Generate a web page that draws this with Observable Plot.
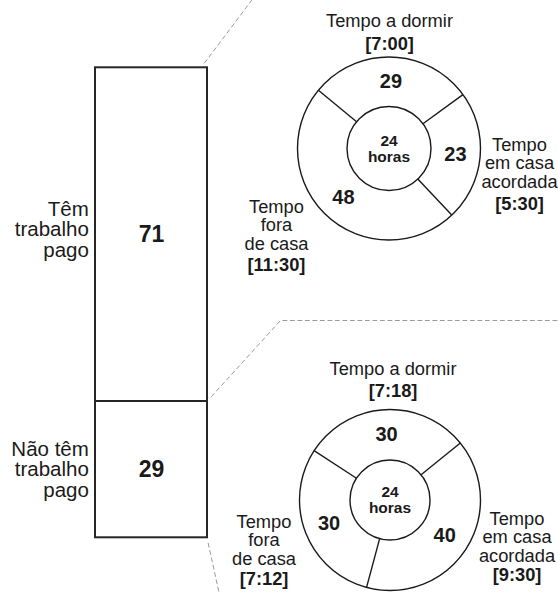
<!DOCTYPE html>
<html>
<head>
<meta charset="utf-8">
<script src="https://cdn.jsdelivr.net/npm/d3@7"></script>
<script src="https://cdn.jsdelivr.net/npm/@observablehq/plot@0.6"></script>
<style>
  html, body { margin: 0; padding: 0; background: #fff; }
  #chart { position: relative; width: 558px; height: 592px; overflow: hidden; background: #fff; }
  #chart svg { position: absolute; left: 0; top: 0; }
</style>
</head>
<body>
<div id="chart"></div>
<script>
// ---------------- DATA ----------------
const groupLabels = ["Têm\ntrabalho\npago", "Não têm\ntrabalho\npago"];
const groupShares = [71, 29];
const timeCategories = ["Tempo a dormir", "Tempo\nem casa\nacordada", "Tempo\nfora\nde casa"];
const paidShares = [29, 23, 48];
const paidTimes = ["[7:00]", "[5:30]", "[11:30]"];
const unpaidShares = [30, 40, 30];
const unpaidTimes = ["[7:18]", "[9:30]", "[7:12]"];
const centerText = "24\nhoras";

// ---------------- LAYOUT ----------------
const W = 558, H = 592;
const FONT = '"Liberation Sans", Arial, Helvetica, sans-serif';
const INK = "#1a1a1a";
const barLayout = {left: 94.7, right: 207, top: 67.3, bottom: 537.3, labelGap: 6.5, labelShift: [22, 27]};
const donutLayout = [
  {cx: 388.5, cy: 148, R: 91.5, r: 42, startDeg: -50.5,
   labelPos: [[0.5, -121.3, -99], [130.5, 39, 61.5], [-112.5, 101, 122]]},
  {cx: 389.5, cy: 499.5, R: 90.5, r: 40, startDeg: -57,
   labelPos: [[3, -125.5, -103], [127, 61.5, 81], [-126, 64.5, 84.5]]}
];
const connectorLayout = [
  {at: 100, offset: [-3, -4.8], to: [[251, 0]]},
  {at: 29, offset: [4, -5], to: [[280, 320], [W, 320]]},
  {at: 0, offset: [0.7, 5.4], to: [[218.5, H]]}
];

const chart = document.getElementById("chart");
const baseStyle = {background: "transparent", fontFamily: FONT, color: INK, overflow: "visible"};

// ---------------- STACKED BAR ----------------
const stackRows = [];
let acc = 0;
for (let i = groupShares.length - 1; i >= 0; --i) {
  stackRows.push({label: groupLabels[i], value: groupShares[i], y1: acc, y2: acc + groupShares[i], idx: i});
  acc += groupShares[i];
}
const halfBand = (barLayout.right - barLayout.left) / 2;
const barPlot = Plot.plot({
  width: W, height: H, margin: 0,
  style: baseStyle,
  x: {type: "band", domain: ["bar"], range: [barLayout.left, barLayout.right], padding: 0, axis: null},
  y: {domain: [0, 100], range: [barLayout.bottom, barLayout.top], axis: null},
  marks: [
    Plot.barY(stackRows, {x: () => "bar", y1: "y1", y2: "y2", fill: "white", stroke: "#262626", strokeWidth: 2}),
    Plot.text(stackRows, {x: () => "bar", y: d => (d.y1 + d.y2) / 2, text: d => String(d.value),
      fontSize: 23, fontWeight: 700, fill: INK}),
    ...stackRows.map(row => Plot.text([row], {
      x: () => "bar", y: d => (d.y1 + d.y2) / 2, text: "label",
      textAnchor: "end", lineAnchor: "bottom", lineHeight: 0.99, fontSize: 20.5, fill: INK,
      dx: -(halfBand + barLayout.labelGap), dy: barLayout.labelShift[row.idx]
    }))
  ]
});
chart.appendChild(barPlot);

// ---------------- DONUTS ----------------
function donutPlot(L, shares, times) {
  const a0 = L.startDeg * Math.PI / 180;
  const arcs = d3.pie().sort(null).startAngle(a0).endAngle(a0 + 2 * Math.PI)(shares);
  const k = L.r / L.R;
  const m = (1 + k) / 2;
  const rows = arcs.map((a, i) => ({
    value: shares[i], start: a.startAngle, mid: (a.startAngle + a.endAngle) / 2,
    name: timeCategories[i], time: times[i], pos: L.labelPos[i]
  }));
  return Plot.plot({
    width: W, height: H, margin: 0,
    style: baseStyle,
    x: {domain: [-L.cx / L.R, (W - L.cx) / L.R], range: [0, W], axis: null},
    y: {domain: [-(H - L.cy) / L.R, L.cy / L.R], range: [H, 0], axis: null},
    marks: [
      Plot.dot([0], {x: 0, y: 0, r: L.R, fill: "white", stroke: INK, strokeWidth: 1.4}),
      Plot.dot([0], {x: 0, y: 0, r: L.r, fill: "white", stroke: INK, strokeWidth: 1.4}),
      Plot.link(rows, {
        x1: d => k * Math.sin(d.start), y1: d => k * Math.cos(d.start),
        x2: d => Math.sin(d.start), y2: d => Math.cos(d.start),
        stroke: INK, strokeWidth: 1.4
      }),
      Plot.text(rows, {x: d => m * Math.sin(d.mid), y: d => m * Math.cos(d.mid), text: d => String(d.value),
        fontSize: 20, fontWeight: 700, fill: INK}),
      Plot.text([centerText], {x: 0, y: 0, text: d => d, fontSize: 15.5, fontWeight: 700, lineHeight: 1.04, fill: INK}),
      Plot.text(rows, {x: d => d.pos[0] / L.R, y: d => -d.pos[1] / L.R, text: "name",
        lineAnchor: "bottom", lineHeight: 1.01, fontSize: 18.3, fill: INK}),
      Plot.text(rows, {x: d => d.pos[0] / L.R, y: d => -d.pos[2] / L.R, text: "time",
        lineAnchor: "bottom", fontSize: 18.3, fontWeight: 700, fill: INK})
    ]
  });
}
chart.appendChild(donutPlot(donutLayout[0], paidShares, paidTimes));
chart.appendChild(donutPlot(donutLayout[1], unpaidShares, unpaidTimes));

// ---------------- CONNECTORS ----------------
const ys = barPlot.scale("y"), xs = barPlot.scale("x");
const yAt = v => (ys && typeof ys.apply === "function") ? ys.apply(v)
  : barLayout.bottom + (barLayout.top - barLayout.bottom) * v / 100;
const barRight = (xs && typeof xs.apply === "function") ? xs.apply("bar") + xs.bandwidth : barLayout.right;
const connPoints = [];
connectorLayout.forEach((c, id) => {
  connPoints.push({id, x: barRight + c.offset[0], y: yAt(c.at) + c.offset[1]});
  c.to.forEach(p => connPoints.push({id, x: p[0], y: p[1]}));
});
chart.appendChild(Plot.plot({
  width: W, height: H, margin: 0,
  style: baseStyle,
  x: {type: "identity", axis: null},
  y: {type: "identity", axis: null},
  marks: [
    Plot.line(connPoints, {x: "x", y: "y", z: "id", stroke: "#9a9a9a", strokeWidth: 1, strokeDasharray: "4,3.5"})
  ]
}));
</script>
</body>
</html>
